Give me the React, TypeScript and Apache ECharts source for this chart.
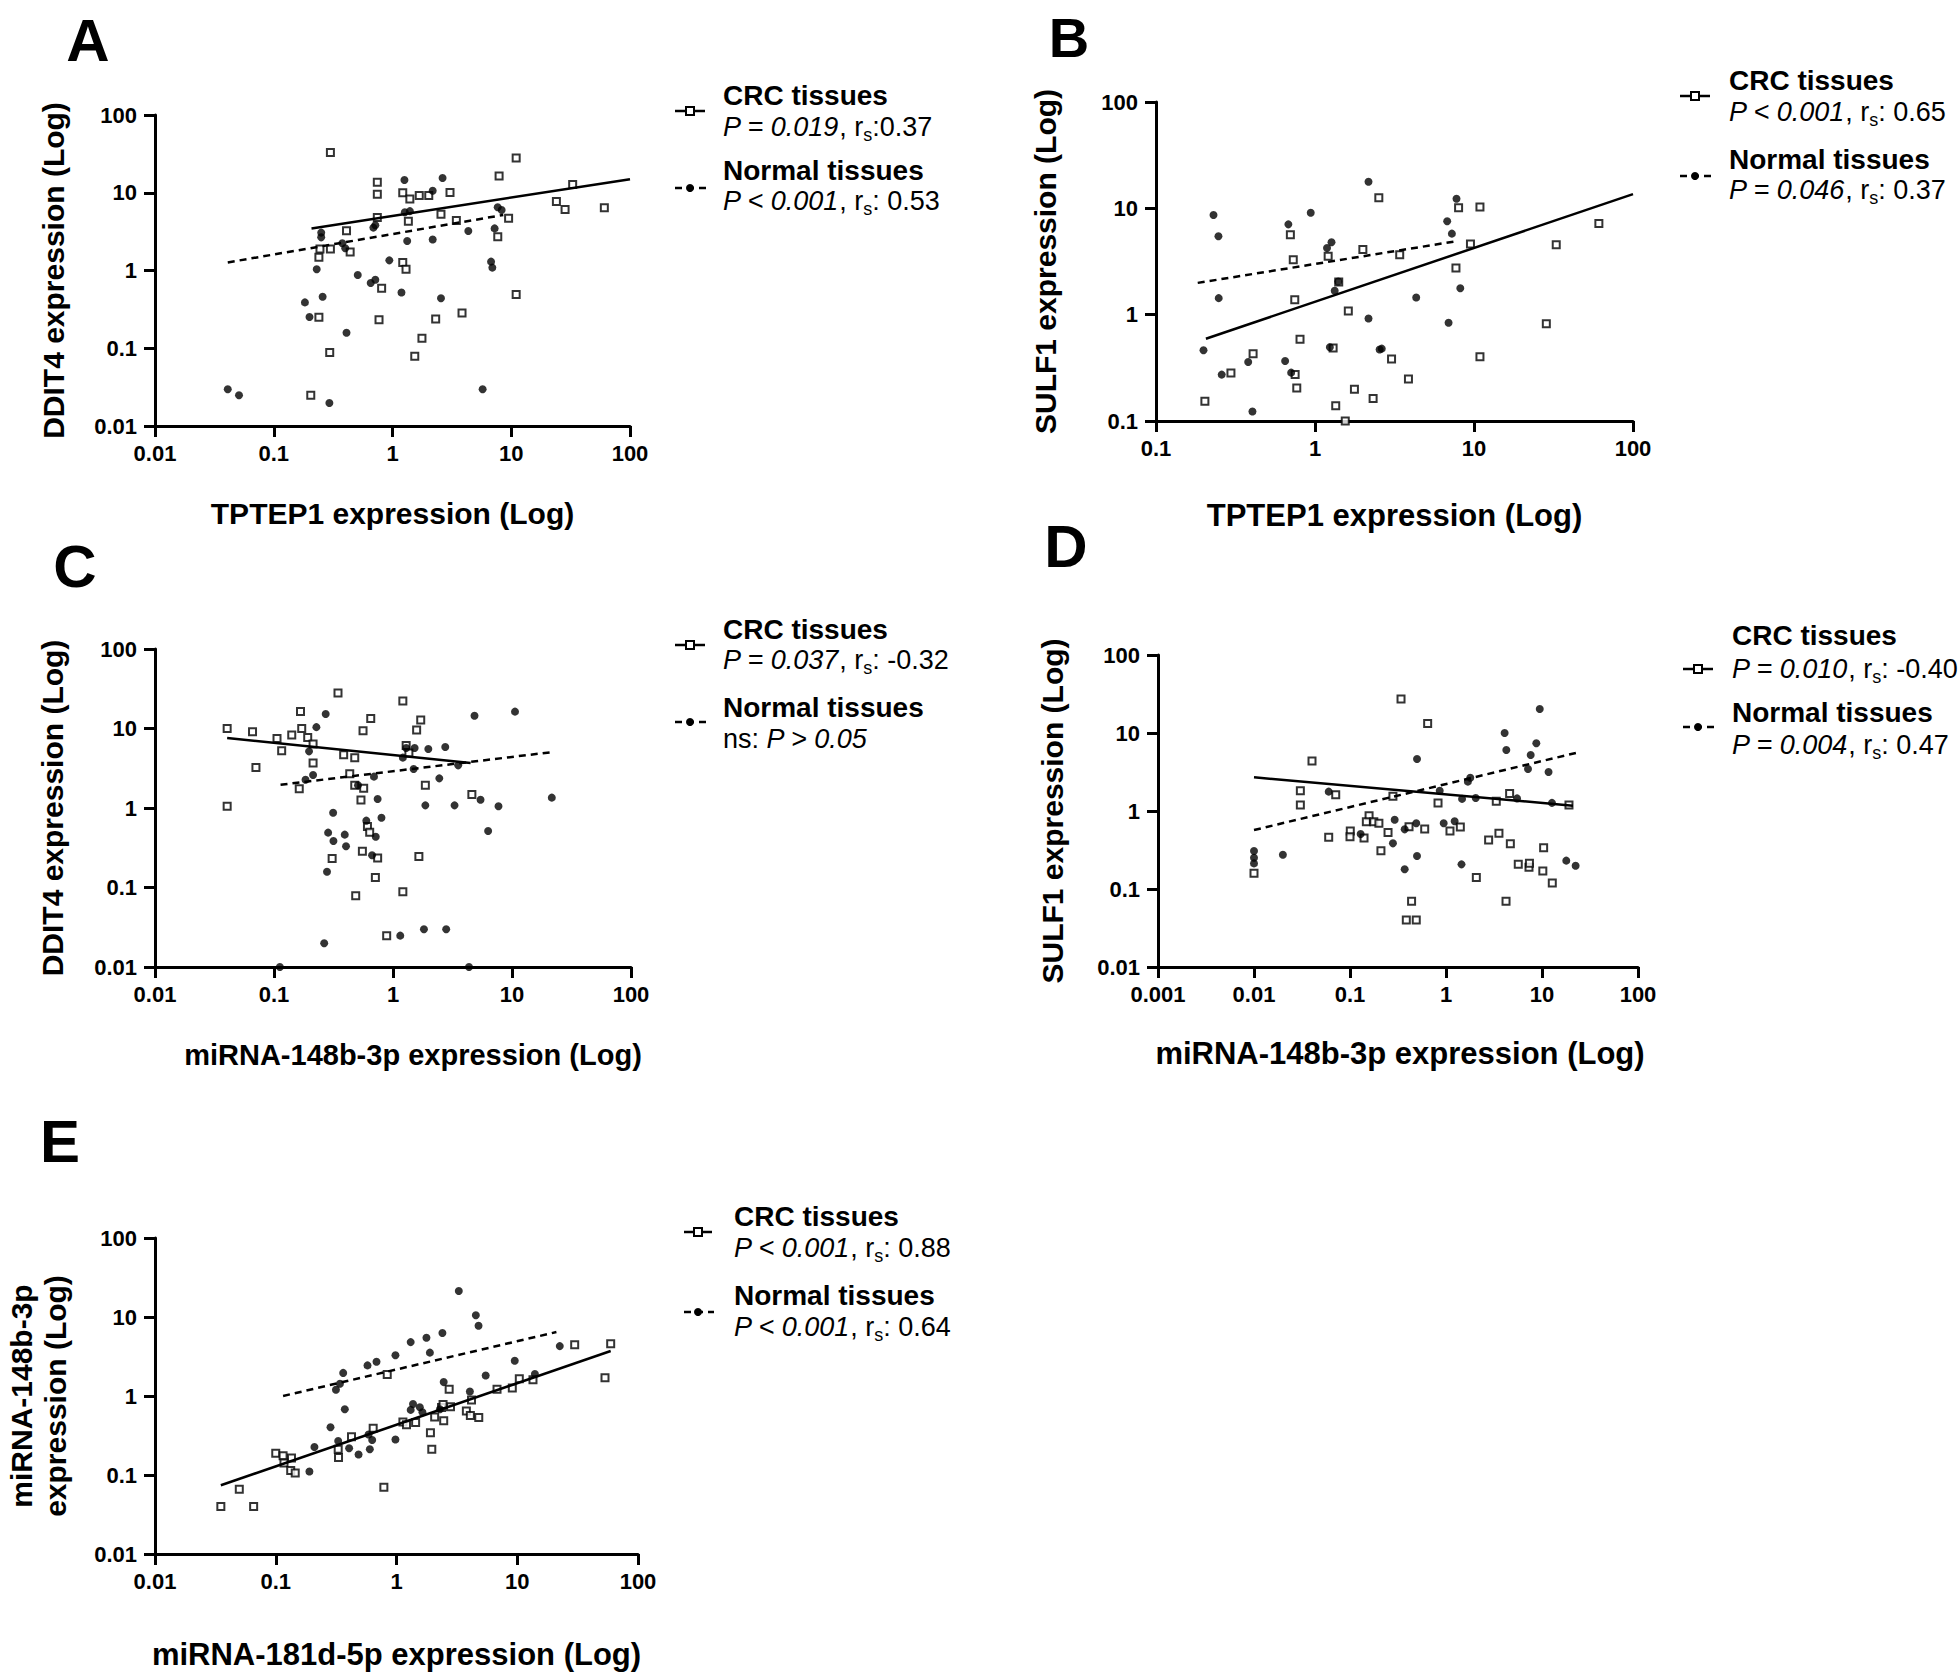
import React, { useEffect, useRef } from "react";
import * as echarts from "echarts";

const FONT = '"Liberation Sans", Arial, Helvetica, sans-serif';

// ---------- Panel A: TPTEP1 vs DDIT4 ----------
const crcA: number[][] = [
  [0.3, 33], [11, 28], [7.9, 16.4], [0.745, 13.6], [0.745, 9.6], [32.9, 12.8], [1.22, 10], [1.4, 8.3],
  [1.68, 9.2], [2.02, 9.2], [3.05, 10.1], [24, 7.7], [28.4, 6.1], [60.8, 6.4], [0.745, 4.8], [1.36, 4.3],
  [2.56, 5.3], [3.45, 4.4], [9.5, 4.7], [0.41, 3.25], [7.7, 2.72], [0.245, 1.89], [0.3, 1.89], [0.44, 1.73],
  [0.24, 1.48], [1.22, 1.27], [1.3, 1.04], [0.81, 0.59], [11, 0.49], [0.24, 0.25], [0.77, 0.233], [2.31, 0.238],
  [3.85, 0.284], [1.77, 0.134], [0.296, 0.0885], [1.54, 0.079], [0.205, 0.0248],
];
const normA: number[][] = [
  [0.041, 0.0297], [0.051, 0.0248], [0.294, 0.0198], [5.74, 0.0297], [0.183, 0.389], [0.2, 0.252], [0.258, 0.46],
  [0.41, 0.158], [0.23, 1.04], [0.251, 3.07], [0.251, 2.67], [0.378, 2.24], [0.4, 1.93], [0.51, 0.875],
  [0.655, 0.69], [0.717, 0.76], [0.94, 1.35], [0.69, 3.56], [0.717, 3.81], [1.19, 0.52], [1.26, 14.6],
  [2.64, 15.5], [2.18, 10.6], [1.27, 5.6], [1.4, 5.8], [1.33, 2.39], [2.18, 2.51], [2.56, 0.44], [4.35, 3.22],
  [7.24, 3.48], [7.69, 6.5], [8.3, 6.0], [6.76, 1.3], [6.93, 1.09],
];
const fitCrcA: number[][] = [[0.208, 3.48], [100, 14.9]];
const fitNormA: number[][] = [[0.041, 1.27], [8.57, 5.18]];

// ---------- Panel B: TPTEP1 vs SULF1 ----------
const crcB: number[][] = [
  [2.52, 12.6], [8.0, 10.1], [10.9, 10.3], [61, 7.2], [0.7, 5.65], [0.73, 3.29], [1.21, 3.54], [2.0, 4.1],
  [3.41, 3.66], [9.5, 4.62], [32.9, 4.55], [7.7, 2.75], [1.41, 2.03], [0.746, 1.38], [1.62, 1.08], [28.5, 0.82],
  [0.805, 0.586], [0.408, 0.43], [1.3, 0.486], [3.03, 0.383], [10.9, 0.403], [0.296, 0.282], [0.75, 0.273],
  [0.768, 0.204], [3.87, 0.248], [1.77, 0.199], [2.32, 0.163], [0.203, 0.153], [1.35, 0.139], [1.55, 0.1],
];
const normB: number[][] = [
  [2.17, 17.8], [7.76, 12.3], [0.23, 8.65], [0.94, 9.1], [0.68, 7.07], [0.247, 5.46], [6.78, 7.55], [7.26, 5.78],
  [1.27, 4.79], [1.19, 4.24], [0.248, 1.43], [1.33, 1.68], [4.33, 1.45], [8.2, 1.77], [2.17, 0.92], [6.92, 0.84],
  [0.199, 0.462], [1.24, 0.493], [2.63, 0.479], [2.55, 0.47], [0.38, 0.359], [0.649, 0.367], [0.259, 0.273],
  [0.708, 0.285], [0.404, 0.123], [1.4, 2.05],
];
const fitCrcB: number[][] = [[0.206, 0.594], [100, 13.6]];
const fitNormB: number[][] = [[0.183, 1.99], [7.9, 4.93]];

// ---------- Panel C: miRNA-148b-3p vs DDIT4 ----------
const crcC: number[][] = [
  [0.345, 28], [1.21, 22.2], [0.167, 16.4], [0.65, 13.4], [1.71, 12.8], [0.0404, 10], [0.066, 9.1], [0.171, 10],
  [0.56, 9.4], [1.58, 9.6], [0.106, 7.5], [0.141, 8.3], [0.192, 7.7], [0.213, 6.4], [0.116, 5.26], [1.29, 6.1],
  [1.36, 4.92], [0.385, 4.69], [0.477, 4.3], [0.213, 3.68], [0.0705, 3.24], [0.433, 2.7], [0.163, 1.75],
  [0.477, 1.93], [0.567, 1.77], [1.87, 1.93], [0.538, 1.26], [4.6, 1.48], [0.0404, 1.05], [0.61, 0.587],
  [0.637, 0.494], [0.308, 0.231], [0.553, 0.285], [0.743, 0.235], [1.65, 0.246], [0.711, 0.134], [0.486, 0.0789],
  [1.21, 0.0887], [0.885, 0.0248],
];
const normC: number[][] = [
  [0.272, 15.2], [0.227, 10.4], [4.84, 14.5], [10.6, 16.3], [0.197, 5.16], [1.29, 5.69], [1.52, 5.69], [1.98, 5.52],
  [2.75, 5.85], [1.21, 4.3], [3.53, 3.44], [1.49, 3.1], [0.213, 2.6], [0.184, 2.27], [0.692, 2.48], [0.508, 1.93],
  [2.45, 2.36], [0.743, 1.3], [1.87, 1.08], [3.29, 1.08], [5.44, 1.27], [7.7, 1.05], [21.6, 1.35], [0.314, 0.873],
  [0.8, 0.755], [0.597, 0.693], [6.3, 0.514], [0.285, 0.49], [0.393, 0.462], [0.316, 0.385], [0.403, 0.33],
  [0.716, 0.435], [0.667, 0.254], [0.279, 0.158], [0.264, 0.0199], [1.15, 0.0248], [1.82, 0.0298], [2.8, 0.0298],
  [0.112, 0.01], [4.35, 0.01],
];
const fitCrcC: number[][] = [[0.0404, 7.6], [4.49, 3.68]];
const fitNormC: number[][] = [[0.1135, 1.96], [22, 5.06]];

// ---------- Panel D: miRNA-148b-3p vs SULF1 ----------
const crcD: number[][] = [
  [0.34, 27.3], [0.644, 13.2], [0.0402, 4.37], [0.0304, 1.82], [0.0304, 1.19], [0.071, 1.62], [0.28, 1.54],
  [0.826, 1.27], [4.6, 1.68], [3.34, 1.33], [19.1, 1.19], [0.158, 0.871], [0.148, 0.73], [0.177, 0.73],
  [0.2, 0.695], [0.412, 0.63], [0.6, 0.588], [0.249, 0.532], [0.1007, 0.554], [0.1, 0.469], [0.14, 0.451],
  [0.06, 0.46], [1.1, 0.554], [1.41, 0.624], [3.56, 0.517], [2.78, 0.425], [4.68, 0.381], [0.21, 0.31],
  [10.4, 0.339], [0.01, 0.159], [5.66, 0.207], [7.32, 0.19], [7.4, 0.214], [10.2, 0.17], [2.07, 0.14],
  [12.8, 0.119], [0.438, 0.0695], [4.22, 0.0695], [0.386, 0.0401], [0.49, 0.0401],
];
const normD: number[][] = [
  [9.47, 20.3], [4.08, 10], [4.25, 6.05], [8.73, 7.38], [7.62, 5.22], [0.499, 4.65], [7.15, 3.45], [11.7, 3.16],
  [1.79, 2.67], [1.69, 2.38], [0.86, 1.82], [0.06, 1.77], [1.47, 1.43], [2.04, 1.47], [5.5, 1.45], [12.7, 1.27],
  [0.292, 0.774], [0.49, 0.695], [0.371, 0.582], [0.946, 0.695], [1.23, 0.738], [0.129, 0.507], [0.28, 0.385],
  [0.01, 0.307], [0.01, 0.252], [0.01, 0.213], [0.02, 0.275], [0.499, 0.265], [0.371, 0.179], [1.45, 0.207],
  [17.9, 0.231], [22.4, 0.199],
];
const fitCrcD: number[][] = [[0.01, 2.7], [21, 1.17]];
const fitNormD: number[][] = [[0.01, 0.57], [23.2, 5.6]];

// ---------- Panel E: miRNA-181d-5p vs miRNA-148b-3p ----------
const crcE: number[][] = [
  [0.0351, 0.0399], [0.0499, 0.0662], [0.0656, 0.0399], [0.1, 0.189], [0.115, 0.175], [0.135, 0.164],
  [0.117, 0.142], [0.133, 0.114], [0.145, 0.106], [0.331, 0.166], [0.329, 0.212], [0.424, 0.305], [0.641, 0.391],
  [0.838, 1.87], [0.786, 0.0702], [1.13, 0.468], [1.21, 0.433], [1.44, 0.463], [1.91, 0.342], [1.96, 0.212],
  [2.07, 0.541], [2.36, 0.713], [2.46, 0.486], [2.8, 0.732], [2.73, 1.22], [3.79, 0.647], [4.09, 0.566],
  [4.8, 0.534], [4.18, 0.887], [6.8, 1.22], [9.1, 1.26], [10.4, 1.65], [13.5, 1.6], [29.9, 4.46], [59.4, 4.58],
  [53.3, 1.7], [2.43, 0.783],
];
const normE: number[][] = [
  [3.28, 21.3], [4.54, 10.5], [4.78, 7.75], [2.4, 6.28], [1.77, 5.45], [1.31, 4.81], [1.89, 3.54], [0.98, 3.28],
  [0.683, 2.71], [0.575, 2.44], [22.5, 4.28], [9.53, 2.79], [5.48, 1.82], [2.46, 1.5], [4.05, 1.14], [14.0, 1.9],
  [0.362, 1.96], [0.34, 1.43], [0.315, 1.2], [0.373, 0.68], [0.284, 0.402], [0.329, 0.269], [0.405, 0.218],
  [0.485, 0.182], [0.601, 0.212], [0.629, 0.277], [0.587, 0.326], [0.98, 0.282], [0.209, 0.226], [0.19, 0.111],
  [1.37, 0.79], [1.31, 0.667], [1.56, 0.72], [1.64, 0.624], [2.29, 0.68],
];
const fitCrcE: number[][] = [[0.0351, 0.0741], [59.4, 3.71]];
const fitNormE: number[][] = [[0.115, 1.0], [21.1, 6.45]];

// ---------- texts ----------
const panelLetters = ["A", "B", "C", "D", "E"];
const xTitles = [
  "TPTEP1 expression (Log)",
  "TPTEP1 expression (Log)",
  "miRNA-148b-3p expression (Log)",
  "miRNA-148b-3p expression (Log)",
  "miRNA-181d-5p expression (Log)",
];
const yTitles = [
  "DDIT4 expression (Log)",
  "SULF1 expression (Log)",
  "DDIT4 expression (Log)",
  "SULF1 expression (Log)",
  "miRNA-148b-3p\nexpression (Log)",
];
const xRanges = [[0.01, 100], [0.1, 100], [0.01, 100], [0.001, 100], [0.01, 100]];
const yRanges = [[0.01, 100], [0.1, 100], [0.01, 100], [0.01, 100], [0.01, 100]];
const groupNames = ["CRC tissues", "Normal tissues"];
const crcStats = [
  "{i|P = 0.019}, r{s|s}:0.37",
  "{i|P < 0.001}, r{s|s}: 0.65",
  "{i|P = 0.037}, r{s|s}: -0.32",
  "{i|P = 0.010}, r{s|s}: -0.40",
  "{i|P < 0.001}, r{s|s}: 0.88",
];
const normStats = [
  "{i|P < 0.001}, r{s|s}: 0.53",
  "{i|P = 0.046}, r{s|s}: 0.37",
  "ns: {i|P > 0.05}",
  "{i|P = 0.004}, r{s|s}: 0.47",
  "{i|P < 0.001}, r{s|s}: 0.64",
];

const dataSets = [
  { crc: crcA, norm: normA, fitCrc: fitCrcA, fitNorm: fitNormA },
  { crc: crcB, norm: normB, fitCrc: fitCrcB, fitNorm: fitNormB },
  { crc: crcC, norm: normC, fitCrc: fitCrcC, fitNorm: fitNormC },
  { crc: crcD, norm: normD, fitCrc: fitCrcD, fitNorm: fitNormD },
  { crc: crcE, norm: normE, fitCrc: fitCrcE, fitNorm: fitNormE },
];

// ---------- layout (pixels) ----------
const layout = [
  { grid: { left: 155, top: 115, width: 475, height: 311 }, xGap: 70, yGap: 85, xFont: 30, xShift: 0, letter: [88, 40], letterSize: 60,
    legend: { tx: 723, rows: [95, 127, 170, 201], sx1: 675, sx2: 705, syC: 111, syN: 188 } },
  { grid: { left: 1156, top: 102, width: 477, height: 319 }, xGap: 77, yGap: 94, xFont: 31, xShift: 0, letter: [1069, 37], letterSize: 56,
    legend: { tx: 1729, rows: [80, 112, 159, 190], sx1: 1680, sx2: 1710, syC: 96, syN: 176 } },
  { grid: { left: 155, top: 649, width: 476, height: 318 }, xGap: 71, yGap: 86, xFont: 29, xShift: 40, letter: [75, 566], letterSize: 60,
    legend: { tx: 723, rows: [629, 660, 707, 739], sx1: 675, sx2: 705, syC: 645, syN: 722 } },
  { grid: { left: 1158, top: 655, width: 480, height: 312 }, xGap: 69, yGap: 89, xFont: 31, xShift: 4, letter: [1066, 546], letterSize: 60,
    legend: { tx: 1732, rows: [635, 669, 712, 745], sx1: 1683, sx2: 1713, syC: 669, syN: 727 } },
  { grid: { left: 155, top: 1238, width: 483, height: 322 }, xGap: 83, yGap: 83, xFont: 31, xShift: 0, letter: [60, 1141], letterSize: 60,
    legend: { tx: 734, rows: [1216, 1248, 1295, 1327], sx1: 684, sx2: 712, syC: 1232, syN: 1312 } },
];

const fmt = (v: number) => String(parseFloat(Number(v).toPrecision(4)));

const labelStyle = { fontSize: 22, fontWeight: "bold", fontFamily: FONT, color: "#000" };
const nameStyle = { fontSize: 30, fontWeight: "bold", fontFamily: FONT, color: "#000", lineHeight: 34 };
const axisLine = { show: true, onZero: false, lineStyle: { color: "#000", width: 3 } };
const axisTick = { show: true, inside: false, length: 11, lineStyle: { color: "#000", width: 3 } };

const richStat = {
  i: { fontStyle: "italic", fontSize: 27, fontFamily: FONT, fill: "#000", color: "#000" },
  s: { fontSize: 18, fontFamily: FONT, padding: [16, 0, 0, 0], fill: "#000", color: "#000" },
};

function buildOption() {
  const grid = layout.map((l) => ({ ...l.grid }));
  const xAxis = layout.map((l, i) => ({
    type: "log", logBase: 10, gridIndex: i, min: xRanges[i][0], max: xRanges[i][1],
    name: xTitles[i], nameLocation: "middle", nameGap: l.xGap,
    nameTextStyle: { ...nameStyle, fontSize: l.xFont, padding: [0, 0, 0, l.xShift] },
    axisLine, axisTick, minorTick: { show: false }, splitLine: { show: false },
    axisLabel: { ...labelStyle, margin: 16, formatter: fmt },
  }));
  const yAxis = layout.map((l, i) => ({
    type: "log", logBase: 10, gridIndex: i, min: yRanges[i][0], max: yRanges[i][1],
    name: yTitles[i], nameLocation: "middle", nameGap: l.yGap, nameTextStyle: nameStyle,
    axisLine, axisTick, minorTick: { show: false }, splitLine: { show: false },
    axisLabel: { ...labelStyle, margin: 18, formatter: fmt },
  }));
  const series: any[] = [];
  dataSets.forEach((d, i) => {
    series.push({
      type: "scatter", xAxisIndex: i, yAxisIndex: i, data: d.crc, symbol: "rect", symbolSize: 7,
      itemStyle: { color: "#fff", borderColor: "#000", borderWidth: 2 }, clip: false, z: 2, silent: true,
    });
    series.push({
      type: "scatter", xAxisIndex: i, yAxisIndex: i, data: d.norm, symbol: "circle", symbolSize: 8,
      itemStyle: { color: "#000" }, clip: false, z: 3, silent: true,
    });
    series.push({
      type: "line", xAxisIndex: i, yAxisIndex: i, data: d.fitCrc, symbol: "none",
      lineStyle: { color: "#000", width: 2.5 }, z: 4, silent: true,
    });
    series.push({
      type: "line", xAxisIndex: i, yAxisIndex: i, data: d.fitNorm, symbol: "none",
      lineStyle: { color: "#000", width: 2.5, type: [7, 5] }, z: 4, silent: true,
    });
  });

  const graphic: any[] = [];
  layout.forEach((l, i) => {
    graphic.push({
      type: "text", x: l.letter[0], y: l.letter[1],
      style: { text: panelLetters[i], fontSize: l.letterSize, fontWeight: "bold", fontFamily: FONT, fill: "#000",
        align: "center", verticalAlign: "middle" },
    });
    const g = l.legend;
    const lines = [
      { text: groupNames[0], bold: true },
      { text: crcStats[i], bold: false },
      { text: groupNames[1], bold: true },
      { text: normStats[i], bold: false },
    ];
    lines.forEach((ln, k) => {
      graphic.push({
        type: "text", x: g.tx, y: g.rows[k],
        style: {
          text: ln.text, fontSize: ln.bold ? 28 : 27, fontWeight: ln.bold ? "bold" : "normal", fontFamily: FONT,
          fill: "#000", align: "left", verticalAlign: "middle", rich: ln.bold ? undefined : richStat,
        },
      });
    });
    const mx = (g.sx1 + g.sx2) / 2;
    graphic.push({ type: "line", shape: { x1: g.sx1, y1: g.syC, x2: g.sx2, y2: g.syC },
      style: { stroke: "#000", lineWidth: 2.5 } });
    graphic.push({ type: "rect", shape: { x: mx - 4, y: g.syC - 4, width: 8, height: 8 },
      style: { fill: "#fff", stroke: "#000", lineWidth: 2 } });
    graphic.push({ type: "line", shape: { x1: g.sx1, y1: g.syN, x2: g.sx2 + 2, y2: g.syN },
      style: { stroke: "#000", lineWidth: 2.5, lineDash: [7, 5] } });
    graphic.push({ type: "circle", shape: { cx: mx, cy: g.syN, r: 4 }, style: { fill: "#000" } });
  });

  return {
    animation: false,
    backgroundColor: "#fff",
    grid, xAxis, yAxis, series, graphic,
  };
}

export default function App() {
  const ref = useRef<HTMLDivElement>(null);
  useEffect(() => {
    if (!ref.current) return;
    const chart = echarts.init(ref.current, undefined, { renderer: "svg" });
    chart.setOption(buildOption() as any);
    return () => chart.dispose();
  }, []);
  return (
    <div
      ref={ref}
      style={{ position: "absolute", left: 0, top: 0, width: 1960, height: 1672, background: "#fff" }}
    />
  );
}
